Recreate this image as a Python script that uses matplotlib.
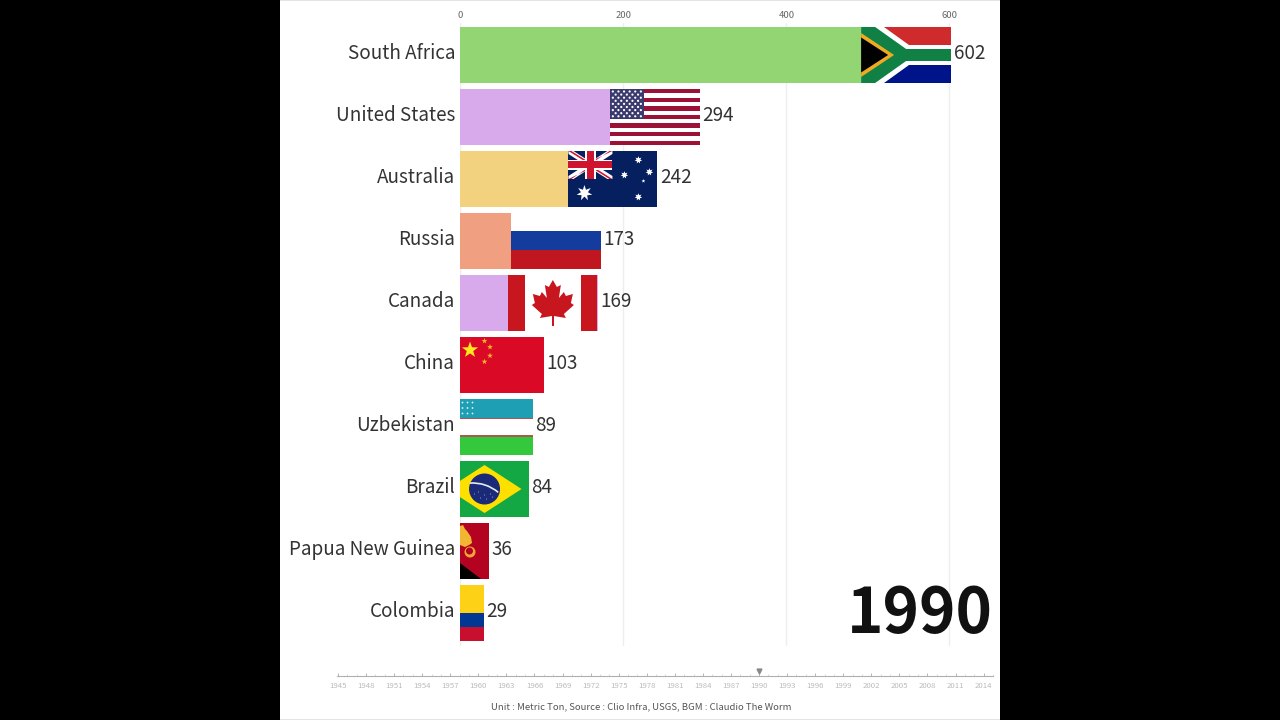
"""Bar chart race frame, 1990 gold production, with flags painted on the bars."""

import matplotlib
import matplotlib.pyplot as plt
import numpy as np
from matplotlib.patches import Arc, Circle, Polygon, Rectangle
from matplotlib.transforms import Affine2D

matplotlib.use("Agg")

plt.rcParams["font.family"] = ["Noto Sans CJK JP", "DejaVu Sans"]

COUNTRIES = [
    "South Africa", "United States", "Australia", "Russia", "Canada",
    "China", "Uzbekistan", "Brazil", "Papua New Guinea", "Colombia",
]
VALUES = [602, 294, 242, 173, 169, 103, 89, 84, 36, 29]
BAR_COLORS = [
    "#93d572", "#d8aaec", "#f2d27f", "#f09f80", "#d8aaec",
    "#f09f80", "#93d572", "#f2d27f", "#d8aaec", "#f2d27f",
]
VALUE_TICKS = [0, 200, 400, 600]
YEAR = "1990"
TIMELINE_YEARS = list(range(1945, 2015, 3))
FOOTNOTE = "Unit : Metric Ton, Source : Clio Infra, USGS, BGM : Claudio The Worm"

W, H = 1280, 720
PX_PER_UNIT = 0.8158
ROW_PX = 62
BAR_PX = 56
FLAG_H = 56


def add_axes_px(fig, left, top, right, bottom):
    return fig.add_axes([left / W, 1 - bottom / H, (right - left) / W, (bottom - top) / H])


def star_points(cx, cy, r, points=5, inner=0.4):
    angles = -np.pi / 2 + np.arange(points * 2) * np.pi / points
    radii = np.where(np.arange(points * 2) % 2 == 0, r, r * inner)
    return np.column_stack([cx + radii * np.cos(angles), cy + radii * np.sin(angles)])


class FlagPainter:
    """Draws in flag-local pixels, placed on one bar and clipped to it."""

    def __init__(self, ax, bar, left, row):
        self.ax = ax
        self.bar = bar
        self.tr = (
            Affine2D().scale(1 / PX_PER_UNIT, 1 / ROW_PX).translate(left, row - FLAG_H / 2 / ROW_PX)
            + ax.transData
        )

    def add(self, patch):
        patch.set_transform(self.tr)
        patch.set_linewidth(0)
        self.ax.add_patch(patch)
        patch.set_clip_path(self.bar)
        patch.set_zorder(3)

    def rect(self, x0, y0, x1, y1, color):
        self.add(Rectangle((x0, y0), x1 - x0, y1 - y0, facecolor=color))

    def poly(self, pts, color):
        self.add(Polygon(pts, closed=True, facecolor=color))

    def star(self, cx, cy, r, color, points=5, inner=0.4):
        self.poly(star_points(cx, cy, r, points, inner), color)

    def dot(self, cx, cy, r, color):
        self.add(Circle((cx, cy), r, facecolor=color))


def paint_south_africa(p):
    p.rect(0, 0, 90, 56, "#ffffff")
    p.poly([(23, 0), (90, 0), (90, 18), (48, 18)], "#cf2a2c")
    p.poly([(23, 56), (90, 56), (90, 38), (48, 38)], "#001489")
    p.poly([(0, 0), (14, 0), (45, 22), (90, 22), (90, 34), (45, 34), (14, 56), (0, 56)], "#108045")
    p.poly([(0, 6), (33, 28), (0, 50)], "#eeaa22")
    p.poly([(0, 10.5), (27, 28), (0, 45.5)], "#000000")


def paint_us(p):
    p.rect(0, 0, 90, 56, "#ffffff")
    stripe = 56 / 13
    for i in range(0, 13, 2):
        p.rect(0, i * stripe, 90, (i + 1) * stripe, "#9b1236")
    p.rect(0, 0, 34, 7 * stripe, "#3a3a6e")
    for r in range(9):
        cols = 6 if r % 2 == 0 else 5
        for c in range(cols):
            x = 3 + c * 5.6 + (0 if r % 2 == 0 else 2.8)
            p.dot(x, 2.5 + r * 3.1, 1.1, "#ffffff")


def paint_australia(p):
    p.rect(0, 0, 89, 56, "#061f5e")
    p.poly([(0, 0), (5, 0), (44, 25), (44, 28), (39, 28), (0, 3)], "#ffffff")
    p.poly([(44, 0), (39, 0), (0, 25), (0, 28), (5, 28), (44, 3)], "#ffffff")
    p.poly([(0, 0), (3, 0), (22, 12), (19, 12)], "#cf1430")
    p.poly([(44, 28), (41, 28), (22, 16), (25, 16)], "#cf1430")
    p.poly([(44, 0), (41, 0), (25, 11), (23, 10)], "#cf1430")
    p.poly([(0, 28), (3, 28), (19, 17), (21, 18)], "#cf1430")
    p.rect(16.5, 0, 27.5, 28, "#ffffff")
    p.rect(0, 9, 44, 19, "#ffffff")
    p.rect(18.5, 0, 25.5, 28, "#cf1430")
    p.rect(0, 10.5, 44, 17.5, "#cf1430")
    p.star(16, 42, 8, "#ffffff", points=7, inner=0.45)
    p.star(70, 9, 3.8, "#ffffff", points=7, inner=0.5)
    p.star(56, 24, 3.8, "#ffffff", points=7, inner=0.5)
    p.star(81, 21, 3.8, "#ffffff", points=7, inner=0.5)
    p.star(75, 30, 2, "#ffffff")
    p.star(70, 46, 3.8, "#ffffff", points=7, inner=0.5)


def paint_russia(p):
    p.rect(0, 0, 90, 18.5, "#ffffff")
    p.rect(0, 18.5, 90, 37.5, "#143c9c")
    p.rect(0, 37.5, 90, 56, "#c0161f")


def paint_canada(p):
    p.rect(0, 0, 89, 56, "#ffffff")
    p.rect(0, 0, 16.5, 56, "#c8161f")
    p.rect(72.5, 0, 89, 56, "#c8161f")
    half = [
        (0, 5), (4, 12), (8, 10), (6, 23), (11, 17), (13, 21), (20, 19),
        (18, 28), (21, 30), (11, 39), (13, 43), (1, 41),
    ]
    right = [(44.5 + x, y) for x, y in half]
    left = [(44.5 - x, y) for x, y in reversed(half)]
    p.poly(right + left, "#c8161f")
    p.rect(43.8, 40, 45.2, 51, "#c8161f")


def paint_china(p):
    p.rect(0, 0, 84, 56, "#da0a26")
    p.star(10, 13, 8.5, "#ffe820")
    for x, y in [(24.5, 4), (30, 10), (30, 18.7), (24.5, 24.7)]:
        p.star(x, y, 3, "#ffb52a")


def paint_uzbekistan(p):
    p.rect(0, 0, 112, 18.5, "#1e9fb4")
    p.rect(0, 18.5, 112, 20, "#a85a50")
    p.rect(0, 20, 112, 36, "#ffffff")
    p.rect(0, 36, 112, 37.5, "#a85a50")
    p.rect(0, 37.5, 112, 56, "#34c83c")
    for y in (3.5, 9, 14.5):
        for x in (2.5, 7.5, 12.5):
            p.dot(x, y, 0.9, "#dff4f6")


def paint_brazil(p):
    p.rect(0, 0, 88, 56, "#14a845")
    p.poly([(7, 28), (44, 4), (81, 28), (44, 52)], "#fde000")
    p.dot(44, 28, 15.5, "#1a2a78")
    for x, y in [(34, 33), (40, 37), (46, 38), (52, 36), (38, 31), (44, 34), (50, 33)]:
        p.dot(x, y, 0.5, "#aab4dc")
    arc = Arc((32, 62), 80, 80, theta1=266, theta2=310, edgecolor="#e8e8e8")
    arc.set_transform(p.tr)
    arc.set_linewidth(1.2)
    arc.set_zorder(4)
    p.ax.add_patch(arc)
    arc.set_clip_path(p.bar)


def paint_png(p):
    p.rect(0, 0, 89, 56, "#b40320")
    p.poly([(0, 40), (21, 56), (0, 56)], "#000000")
    p.poly([(0, 3), (3, 2), (5, 6), (7, 8), (11, 14), (12, 20), (9, 22), (5, 24), (0, 22)], "#f2b632")
    p.dot(10, 29, 5.5, "#f2a63a")
    p.dot(9.5, 28, 3.5, "#b40320")


def paint_colombia(p):
    p.rect(0, 0, 89, 28, "#fcd116")
    p.rect(0, 28, 89, 42, "#003893")
    p.rect(0, 42, 89, 56, "#c8102e")


# painter, flag width in px, anchored to the bar end or to the axis
FLAGS = [
    (paint_south_africa, 90, "end"),
    (paint_us, 90, "end"),
    (paint_australia, 89, "end"),
    (paint_russia, 90, "end"),
    (paint_canada, 89.5, "end"),
    (paint_china, 84, "axis"),
    (paint_uzbekistan, 112, "axis"),
    (paint_brazil, 88, "end"),
    (paint_png, 89, "axis"),
    (paint_colombia, 89, "axis"),
]

fig = plt.figure(figsize=(W / 100, H / 100), dpi=100, facecolor="#000000")
fig.add_artist(
    Rectangle((280 / W, 0), 720 / W, 1, transform=fig.transFigure,
              facecolor="#ffffff", edgecolor="none", zorder=-1)
)
for y_px in (0, 719):
    fig.add_artist(
        Rectangle((280 / W, 1 - (y_px + 1) / H), 720 / W, 1 / H, transform=fig.transFigure,
                  facecolor="#e4e4e4", edgecolor="none", zorder=-1)
    )

ax = add_axes_px(fig, 460, 22.5, 1000, 645.5)
ax.patch.set_alpha(0)
rows = np.arange(len(VALUES))
ax.set_xlim(0, 540 / PX_PER_UNIT)
ax.set_ylim(9.524, -0.524)
bars = ax.barh(rows, VALUES, height=BAR_PX / ROW_PX, color=BAR_COLORS, zorder=2)

for i, (painter, width, anchor) in enumerate(FLAGS):
    left = VALUES[i] - width / PX_PER_UNIT if anchor == "end" else 0
    painter(FlagPainter(ax, bars[i], left, rows[i]))

for row, name, value in zip(rows, COUNTRIES, VALUES):
    ax.annotate(name, (0, row), xytext=(-5, 1.5), textcoords="offset pixels",
                ha="right", va="center", fontsize=13.6, color="#333333", annotation_clip=False)
    ax.annotate(str(value), (value, row), xytext=(2.5, 1.5), textcoords="offset pixels",
                ha="left", va="center", fontsize=13.6, color="#333333", annotation_clip=False)

ax.set_xticks(VALUE_TICKS)
ax.xaxis.tick_top()
ax.tick_params(axis="x", length=0, pad=1.5, labelsize=6.8, labelcolor="#666666")
ax.set_yticks([])
ax.grid(axis="x", color="#eeeeee", linewidth=1, zorder=0)
ax.set_axisbelow(True)
for spine in ax.spines.values():
    spine.set_visible(False)

fig.text(993 / W, 1 - 615 / H, YEAR, ha="right", va="center",
         fontsize=44.5, fontweight="bold", color="#111111")

tl = add_axes_px(fig, 337, 670, 993, 676)
tl.patch.set_alpha(0)
tl.set_xlim(1944.9, 2015)
tl.set_ylim(0, 1)
tl.set_yticks([])
tl.set_xticks(TIMELINE_YEARS)
tl.set_xticks(np.arange(1945, 2016), minor=True)
tl.tick_params(axis="x", which="major", direction="in", length=2.5, width=0.6, color="#aaaaaa",
               pad=4.5, labelsize=5.6, labelcolor="#bbbbbb")
tl.tick_params(axis="x", which="minor", direction="in", length=1.2, width=0.4, color="#bbbbbb")
for name, spine in tl.spines.items():
    spine.set_visible(name == "bottom")
tl.spines["bottom"].set_color("#b0b0b0")
tl.spines["bottom"].set_linewidth(0.8)
tl.plot([int(YEAR)], [0.9], marker="v", markersize=3.5, color="#888888", clip_on=False)

fig.text(641 / W, 1 - 707 / H, FOOTNOTE, ha="center", va="center", fontsize=6.9, color="#555555")

fig.savefig("out.png", dpi=100, facecolor=fig.get_facecolor())
plt.close(fig)
